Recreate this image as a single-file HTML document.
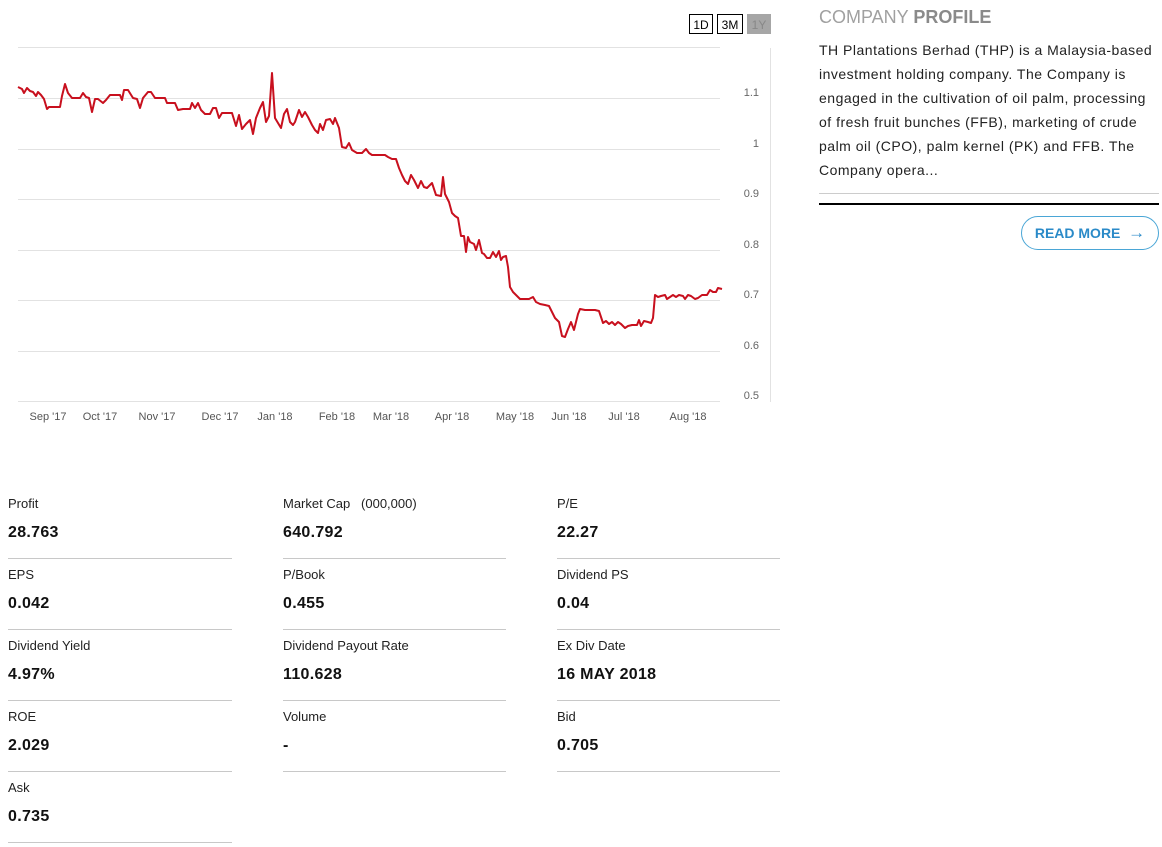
<!DOCTYPE html>
<html><head><meta charset="utf-8"><style>
body{margin:0;width:1162px;height:847px;background:#fff;font-family:"Liberation Sans",sans-serif;position:relative;overflow:hidden}
.a{position:absolute}
.btn{position:absolute;top:14px;height:20px;border:1px solid #000;font-size:12px;line-height:20px;text-align:center;box-sizing:border-box}
.lbl{position:absolute;font-size:13px;color:#222}
.val{position:absolute;font-size:16px;font-weight:bold;color:#111;letter-spacing:0.3px}
.hr{position:absolute;height:1px;background:#c8c8c8}
</style></head><body>
<div class="btn" style="left:689px;width:24px">1D</div>
<div class="btn" style="left:717px;width:26px">3M</div>
<div class="btn" style="left:747px;width:24px;background:#a6a6a6;border-color:#a6a6a6;color:#888">1Y</div>
<svg class="a" style="left:0;top:0" width="800" height="440">
<g stroke="#e2e2e2" stroke-width="1">
<line x1="18" x2="720" y1="47.5" y2="47.5"/><line x1="18" x2="720" y1="98.5" y2="98.5"/><line x1="18" x2="720" y1="149.5" y2="149.5"/><line x1="18" x2="720" y1="199.5" y2="199.5"/><line x1="18" x2="720" y1="250.5" y2="250.5"/><line x1="18" x2="720" y1="300.5" y2="300.5"/><line x1="18" x2="720" y1="351.5" y2="351.5"/><line x1="18" x2="720" y1="401.5" y2="401.5"/>
<line x1="770.5" x2="770.5" y1="48" y2="402"/>
</g>
<g font-size="11" fill="#666" text-anchor="end">
<text x="759" y="96">1.1</text><text x="759" y="147">1</text><text x="759" y="197">0.9</text><text x="759" y="248">0.8</text><text x="759" y="298">0.7</text><text x="759" y="349">0.6</text><text x="759" y="399">0.5</text>
</g>
<g font-size="11" fill="#555" text-anchor="middle">
<text x="48" y="420">Sep '17</text><text x="100" y="420">Oct '17</text><text x="157" y="420">Nov '17</text><text x="220" y="420">Dec '17</text><text x="275" y="420">Jan '18</text><text x="337" y="420">Feb '18</text><text x="391" y="420">Mar '18</text><text x="452" y="420">Apr '18</text><text x="515" y="420">May '18</text><text x="569" y="420">Jun '18</text><text x="624" y="420">Jul '18</text><text x="688" y="420">Aug '18</text>
</g>
<polyline fill="none" stroke="#c8101e" stroke-width="2" stroke-linejoin="round" points="18,87 22,89 24,93 27,88 30,91 33,92 36,96 38,92 41,95 44,99 47,109 49,107 52,107 55,107 60,107 62,96 65,84 68,93 72,98 80,98 83,93 86,97 89,98 92,112 95,99 98,99 103,103 106,100 110,95 115,95 120,95 122,100 124,90 128,90 133,98 137,99 140,108 143,98 148,92 151,92 155,98 160,98 165,98 167,103 172,103 175,103 178,110 183,109 190,109 192,103 195,108 198,103 201,110 205,114 210,114 213,108 216,108 219,118 222,113 225,113 232,113 236,126 239,115 242,129 246,124 250,120 253,134 256,118 260,108 263,102 266,122 269,116 272,73 275,118 278,123 281,128 284,114 287,109 290,122 293,125 295,122 299,110 302,117 305,112 308,117 312,125 315,130 318,133 320,124 323,130 326,120 330,119 333,124 335,118 339,128 342,147 346,148 349,143 352,150 357,153 362,153 366,149 369,153 372,155 385,155 388,157 392,159 396,159 399,168 402,175 405,181 408,184 411,175 414,180 416,184 418,188 421,181 424,187 427,188 432,183 436,195 441,196 443,177 445,194 449,202 452,213 455,216 458,218 461,236 464,236 466,252 468,237 470,242 474,244 476,250 479,240 482,253 484,254 487,258 490,258 493,252 496,257 499,251 501,260 503,257 506,256 508,267 510,287 513,292 516,295 518,297 520,299 529,299 533,297 536,302 540,304 545,305 549,306 552,312 555,318 559,322 562,336 565,337 568,329 571,322 574,330 578,314 580,309 585,310 595,310 599,311 603,323 606,321 609,324 612,322 615,325 618,322 621,324 625,328 628,326 632,325 637,325 639,320 641,326 644,321 648,322 651,323 653,318 655,295 658,297 661,296 665,295 667,299 670,297 673,295 676,297 679,295 683,296 685,299 688,295 691,296 695,299 698,298 702,295 707,295 710,290 713,292 716,292 718,288 722,289"/>
</svg>
<div class="a" style="left:819px;top:7px;font-size:18px;color:#a0a0a0">COMPANY <b style="color:#8a8a8a">PROFILE</b></div>
<div class="a" style="left:819px;top:38px;width:345px;font-size:14px;line-height:24px;color:#222;white-space:nowrap;letter-spacing:0.5px">TH Plantations Berhad (THP) is a Malaysia-based<br>investment holding company. The Company is<br>engaged in the cultivation of oil palm, processing<br>of fresh fruit bunches (FFB), marketing of crude<br>palm oil (CPO), palm kernel (PK) and FFB. The<br>Company opera...</div>
<div class="a" style="left:819px;top:193px;width:340px;height:1px;background:#ccc"></div>
<div class="a" style="left:819px;top:203px;width:340px;height:2px;background:#000"></div>
<div class="a" style="left:1021px;top:216px;width:136px;height:32px;border:1px solid #4aa6d6;border-radius:17px;color:#2a8ac8;font-weight:bold;font-size:14px;line-height:32px;text-align:center">READ MORE &nbsp;<span style="font-size:17px">&#8594;</span></div>

<div class="lbl" style="left:8px;top:496px">Profit</div><div class="val" style="left:8px;top:524px">28.763</div><div class="hr" style="left:8px;top:558px;width:224px"></div>
<div class="lbl" style="left:283px;top:496px">Market Cap &nbsp;&nbsp;(000,000)</div><div class="val" style="left:283px;top:524px">640.792</div><div class="hr" style="left:283px;top:558px;width:223px"></div>
<div class="lbl" style="left:557px;top:496px">P/E</div><div class="val" style="left:557px;top:524px">22.27</div><div class="hr" style="left:557px;top:558px;width:223px"></div>

<div class="lbl" style="left:8px;top:567px">EPS</div><div class="val" style="left:8px;top:595px">0.042</div><div class="hr" style="left:8px;top:629px;width:224px"></div>
<div class="lbl" style="left:283px;top:567px">P/Book</div><div class="val" style="left:283px;top:595px">0.455</div><div class="hr" style="left:283px;top:629px;width:223px"></div>
<div class="lbl" style="left:557px;top:567px">Dividend PS</div><div class="val" style="left:557px;top:595px">0.04</div><div class="hr" style="left:557px;top:629px;width:223px"></div>

<div class="lbl" style="left:8px;top:638px">Dividend Yield</div><div class="val" style="left:8px;top:666px">4.97%</div><div class="hr" style="left:8px;top:700px;width:224px"></div>
<div class="lbl" style="left:283px;top:638px">Dividend Payout Rate</div><div class="val" style="left:283px;top:666px">110.628</div><div class="hr" style="left:283px;top:700px;width:223px"></div>
<div class="lbl" style="left:557px;top:638px">Ex Div Date</div><div class="val" style="left:557px;top:666px">16 MAY 2018</div><div class="hr" style="left:557px;top:700px;width:223px"></div>

<div class="lbl" style="left:8px;top:709px">ROE</div><div class="val" style="left:8px;top:737px">2.029</div><div class="hr" style="left:8px;top:771px;width:224px"></div>
<div class="lbl" style="left:283px;top:709px">Volume</div><div class="val" style="left:283px;top:737px">-</div><div class="hr" style="left:283px;top:771px;width:223px"></div>
<div class="lbl" style="left:557px;top:709px">Bid</div><div class="val" style="left:557px;top:737px">0.705</div><div class="hr" style="left:557px;top:771px;width:223px"></div>

<div class="lbl" style="left:8px;top:780px">Ask</div><div class="val" style="left:8px;top:808px">0.735</div><div class="hr" style="left:8px;top:842px;width:224px"></div>
</body></html>
